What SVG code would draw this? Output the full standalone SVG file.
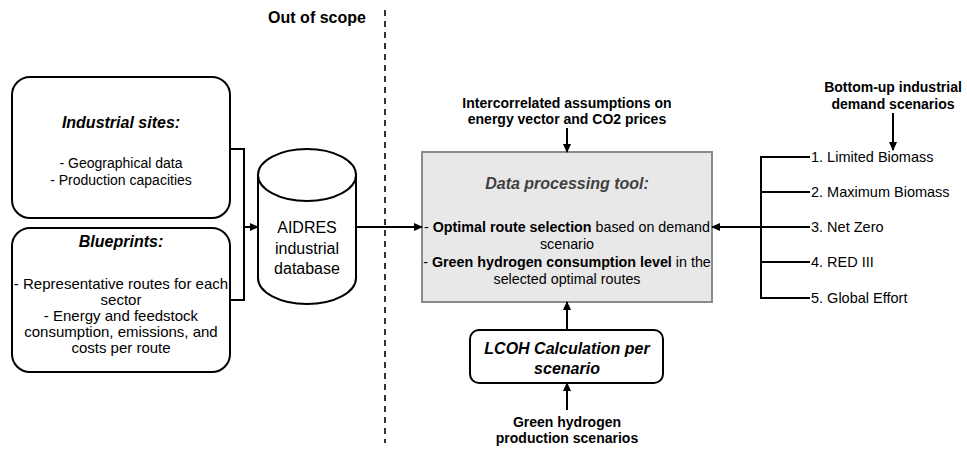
<svg xmlns="http://www.w3.org/2000/svg" width="967" height="450" viewBox="0 0 967 450">
<defs>
<style>
text{font-family:"Liberation Sans",Arial,sans-serif;fill:#000;}
.t{font-size:14px;text-anchor:middle;}
.t15{font-size:15px;text-anchor:middle;}
.b{font-weight:bold;}
.h{font-size:16px;font-weight:bold;font-style:italic;text-anchor:middle;}
.lbl{font-size:14px;font-weight:bold;text-anchor:middle;}
.sc{font-size:14.5px;}
.box{fill:#fff;stroke:#000;stroke-width:2;}
.ln{fill:none;stroke:#000;stroke-width:2;}
.arr{fill:none;stroke:#000;stroke-width:2;marker-end:url(#ah);}
</style>
<marker id="ah" markerWidth="9" markerHeight="8" refX="8" refY="4" orient="auto" markerUnits="userSpaceOnUse">
<path d="M0,0 L9,4 L0,8 Z" fill="#000"/>
</marker>
</defs>
<rect width="967" height="450" fill="#fff"/>

<g id="out-of-scope">
<text x="317" y="23" style="font-size:16px;font-weight:bold;text-anchor:middle">Out of scope</text>
</g>

<g id="industrial-sites">
<rect class="box" x="12" y="77" width="218" height="141" rx="18"/>
<text class="h" x="121" y="128">Industrial sites:</text>
<text class="t" x="121" y="168">- Geographical data</text>
<text class="t" x="121" y="185">- Production capacities</text>
</g>

<g id="blueprints">
<rect class="box" x="12" y="228" width="218" height="144" rx="18"/>
<text class="h" x="121" y="247">Blueprints:</text>
<text class="t15" x="121" y="289">- Representative routes for each</text>
<text class="t15" x="121" y="305">sector</text>
<text class="t15" x="121" y="321">- Energy and feedstock</text>
<text class="t15" x="121" y="337">consumption, emissions, and</text>
<text class="t15" x="121" y="353">costs per route</text>
</g>

<g id="aidres-db">
<path class="box" d="M258,175 L258,278 A49,26 0 0 0 356,278 L356,175"/>
<ellipse class="box" cx="307" cy="175" rx="49" ry="26"/>
<text x="307" y="233" style="font-size:16px;text-anchor:middle">AIDRES</text>
<text x="307" y="254" style="font-size:16px;text-anchor:middle">industrial</text>
<text x="307" y="274" style="font-size:16px;text-anchor:middle">database</text>
</g>

<g id="assumptions">
<text class="lbl" x="567" y="108">Intercorrelated assumptions on</text>
<text class="lbl" x="567" y="124">energy vector and CO2 prices</text>
</g>

<g id="data-processing-tool">
<rect x="422" y="152" width="290" height="150" fill="#e8e8e8" stroke="#8a8a8a" stroke-width="2"/>
<text class="h" x="567" y="189" style="fill:#404040">Data processing tool:</text>
<text class="t" x="567" y="232" style="font-size:14.3px">- <tspan class="b">Optimal route selection</tspan> based on demand</text>
<text class="t" x="567" y="249" style="font-size:14.3px">scenario</text>
<text class="t" x="567" y="267" style="font-size:14.3px">- <tspan class="b">Green hydrogen consumption level</tspan> in the</text>
<text class="t" x="567" y="284" style="font-size:14.3px">selected optimal routes</text>
</g>

<g id="lcoh">
<rect class="box" x="470" y="330" width="193" height="53" rx="9"/>
<text class="h" x="567" y="354">LCOH Calculation per</text>
<text class="h" x="567" y="374">scenario</text>
</g>

<g id="green-h2">
<text class="lbl" x="567" y="427">Green hydrogen</text>
<text class="lbl" x="567" y="443">production scenarios</text>
</g>

<g id="demand-scenarios">
<text class="lbl" x="893" y="92">Bottom-up industrial</text>
<text class="lbl" x="893" y="109">demand scenarios</text>
</g>

<g id="scenario-list">
<text class="sc" x="811" y="162">1. Limited Biomass</text>
<text class="sc" x="811" y="197">2. Maximum Biomass</text>
<text class="sc" x="811" y="232">3. Net Zero</text>
<text class="sc" x="811" y="267">4. RED III</text>
<text class="sc" x="811" y="303">5. Global Effort</text>
</g>

<g id="connectors">
<path class="ln" d="M230,149 H244 V300 H230"/>
<path class="arr" d="M244,227 H258"/>
<path class="arr" d="M356,227 H422"/>
<path d="M385,10 V443" fill="none" stroke="#000" stroke-width="1.6" stroke-dasharray="6,5"/>
<path class="arr" d="M567,128 V152"/>
<path class="ln" d="M810,157 H761 V298 H810 M761,192 H810 M761,227 H810 M761,262 H810"/>
<path class="arr" d="M761,227 H712"/>
<path class="arr" d="M893,113 V150"/>
<path class="arr" d="M567,330 V302"/>
<path class="arr" d="M567,410 V383"/>
</g>
</svg>
